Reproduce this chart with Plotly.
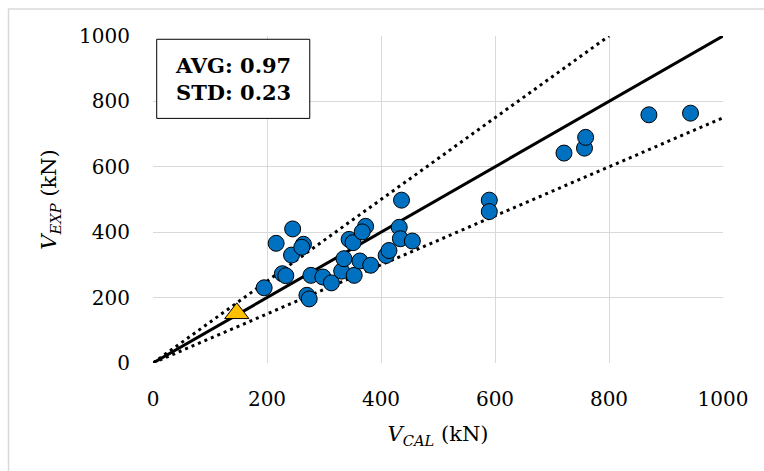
import plotly.graph_objects as go

# Data
v_cal = [195, 216, 245, 243, 264, 261, 227, 233, 277, 298, 313, 270, 274,
         331, 335, 353, 363, 382, 344, 351, 373, 367, 409, 414, 432, 434,
         455, 436, 590, 590, 721, 757, 759, 870, 943]
v_exp = [230, 366, 410, 330, 363, 354, 273, 267, 268, 263, 245, 207, 196,
         281, 319, 268, 312, 299, 378, 368, 418, 401, 329, 344, 415, 380,
         373, 498, 498, 463, 642, 657, 690, 759, 764]
tri_cal = [147]
tri_exp = [152]

line_x = [0, 1000]
line_eq = [0, 1000]
upper_x = [0, 800]
upper_y = [0, 1000]
lower_x = [0, 1000]
lower_y = [0, 750]

ticks = [0, 200, 400, 600, 800, 1000]
stats_text = "AVG: 0.97<br>STD: 0.23"

FONT = "DejaVu Serif"

fig = go.Figure()
fig.add_trace(go.Scatter(x=upper_x, y=upper_y, mode="lines",
                         line=dict(color="black", width=3, dash="3px,4px"),
                         hoverinfo="skip"))
fig.add_trace(go.Scatter(x=lower_x, y=lower_y, mode="lines",
                         line=dict(color="black", width=3, dash="3px,4px"),
                         hoverinfo="skip"))
fig.add_trace(go.Scatter(x=line_x, y=line_eq, mode="lines",
                         line=dict(color="black", width=3),
                         hoverinfo="skip"))
fig.add_trace(go.Scatter(x=v_cal, y=v_exp, mode="markers",
                         marker=dict(size=16, color="#0070C0",
                                     line=dict(color="black", width=1))))
fig.add_trace(go.Scatter(x=tri_cal, y=tri_exp, mode="markers",
                         marker=dict(size=21, symbol="triangle-up", color="#FFC000",
                                     line=dict(color="black", width=1))))

axis_common = dict(
    range=[0, 1000], tickvals=ticks, showgrid=True, gridcolor="#D9D9D9",
    gridwidth=1, zeroline=False, showline=False, ticks="",
    tickfont=dict(family=FONT, size=20, color="black"),
    fixedrange=True,
)

fig.update_layout(
    width=764, height=471,
    margin=dict(l=153, r=41, t=36, b=108),
    paper_bgcolor="white", plot_bgcolor="white",
    showlegend=False,
    xaxis=dict(**axis_common, ticklabelstandoff=22,
               title=dict(text="<i>V<sub>CAL</sub></i> (kN)",
                          font=dict(family=FONT, size=21, color="black"),
                          standoff=16)),
    yaxis=dict(**axis_common, ticklabelstandoff=22,
               title=dict(text="<i>V<sub>EXP</sub></i> (kN)",
                          font=dict(family=FONT, size=21, color="black"),
                          standoff=16)),
    shapes=[
        dict(type="rect", xref="paper", yref="paper",
             x0=-0.2535, x1=1.2, y0=-0.5, y1=1.0826,
             line=dict(color="#D9D9D9", width=1.5), fillcolor="rgba(0,0,0,0)",
             layer="below"),
        dict(type="rect", xref="paper", yref="paper",
             x0=0.0065, x1=0.275, y0=0.748, y1=0.99,
             line=dict(color="black", width=1), fillcolor="white",
             layer="above"),
    ],
    annotations=[
        dict(text="<b>" + stats_text + "</b>", xref="paper", yref="paper",
             x=0.1408, y=0.869, xanchor="center", yanchor="middle",
             showarrow=False, align="left",
             font=dict(family=FONT, size=21, color="black")),
    ],
)

fig.write_html("out.html")
